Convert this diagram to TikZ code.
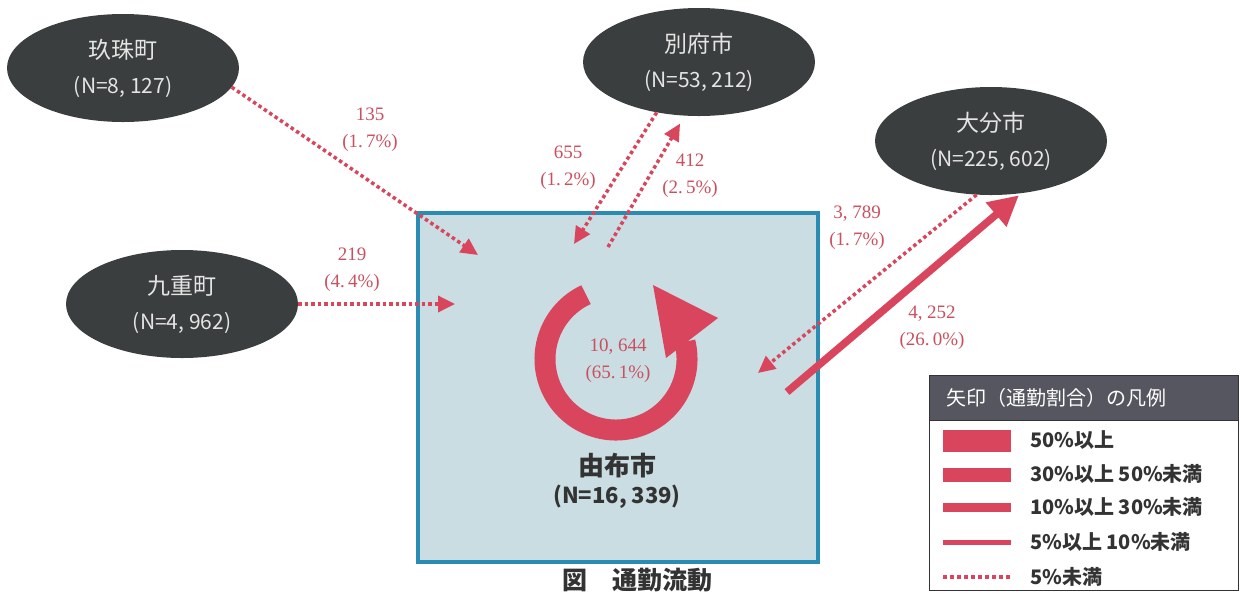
\documentclass[tikz,border=0pt]{standalone}
\usepackage{fontspec}
\newfontfamily\jp{Noto Sans CJK JP}
\newfontfamily\mincho{Liberation Serif}
\usetikzlibrary{shapes.geometric,arrows.meta}
\definecolor{ellfill}{HTML}{3B3E3E}
\definecolor{elltext}{HTML}{E4E4E4}
\definecolor{arr}{HTML}{D9455C}
\definecolor{lbl}{HTML}{C9505F}
\definecolor{boxline}{HTML}{2B8CB3}
\definecolor{boxfill}{HTML}{C9DDE2}
\definecolor{hdr}{HTML}{55565F}
\definecolor{txt}{HTML}{333333}
\newcommand{\nline}[1]{{\fontsize{21}{35}\selectfont #1}}
\tikzset{
  city/.style={ellipse, fill=ellfill, text=elltext, minimum width=232, minimum height=108, inner sep=0pt, align=center, font=\jp\fontsize{23}{35}\selectfont},
  lab/.style={text=lbl, align=center, font=\mincho\fontsize{19}{27}\selectfont},
  dotarrow/.style={draw=arr, line width=3.5pt, dash pattern=on 3.5pt off 3pt, -{Triangle[length=17pt,width=16pt]}},
  solidarrow/.style={draw=arr, line width=7.5pt, -{Triangle[length=30pt,width=30pt]}},
  legtext/.style={anchor=west, text=txt, inner sep=0pt, font=\jp\bfseries\fontsize{20}{22}\selectfont},
  swatch/.style={draw=arr},
}
\begin{document}
\begin{tikzpicture}[x=1pt,y=-1pt]
\useasboundingbox (0,0) rectangle (1241,595);
% main box
\node[draw=boxline, line width=4pt, fill=boxfill, minimum width=400, minimum height=349, inner sep=0pt] (yufu) at (618,387.5) {};
\node[text=txt, align=center, font=\jp\bfseries\fontsize{26}{28}\selectfont] (yufulbl) at (617,481) {由布市\\{\fontsize{22}{28}\selectfont(N=16, 339)}};
% cities
\node[city] (kusu) at (123,68) {玖珠町\\\nline{(N=8, 127)}};
\node[city] (beppu) at (699,62) {別府市\\\nline{(N=53, 212)}};
\node[city] (oita) at (991,141) {大分市\\\nline{(N=225, 602)}};
\node[city] (kokonoe) at (182,304) {九重町\\\nline{(N=4, 962)}};
% end coordinates inside the box
\coordinate (kusuEnd) at (478,255);
\coordinate (kokoEnd) at (455,304);
\coordinate (bepEnd) at (574,244);
\coordinate (bepStart) at (608,247);
\coordinate (oitaEnd) at (758,373);
\coordinate (oitaStart) at (787,392);
% connectors
\draw[dotarrow] (kusu.-10) -- (kusuEnd);
\draw[dotarrow] (kokonoe.east) -- (kokoEnd);
\draw[dotarrow] (beppu.-130) -- (bepEnd);
\draw[dotarrow, shorten >=9pt] (bepStart) -- (beppu.-105);
\draw[dotarrow] (oita.-105) -- (oitaEnd);
\draw[solidarrow, shorten >=3pt] (oitaStart) -- (oita.-60);
% circular arrow
\draw[arr, line width=21pt] (616,359) ++(245:71) arc[start angle=245, end angle=-14, radius=71];
\fill[arr] (653,285) -- (718,318) -- (666,358) -- cycle;
% labels
\node[lab] (l1) at (370,130) {135\\(1.\,7\%)};
\node[lab] (l2) at (352,270) {219\\(4.\,4\%)};
\node[lab] (l3) at (568,168) {655\\(1.\,2\%)};
\node[lab] (l4) at (690,176) {412\\(2.\,5\%)};
\node[lab] (l5) at (857,228) {3, 789\\(1.\,7\%)};
\node[lab] (l6) at (932,328) {4, 252\\(26.\,0\%)};
\node[lab] (l7) at (618,361) {10, 644\\(65.\,1\%)};
% legend
\node[draw=txt, line width=1.2pt, fill=white, minimum width=309, minimum height=215, inner sep=0pt, anchor=north west] (legend) at (929,375) {};
\node[fill=hdr, draw=txt, line width=1.2pt, minimum width=309, minimum height=45, inner sep=0pt, anchor=north west] (leghdr) at (929,375) {};
\node[anchor=west, text=white, inner sep=0pt, font=\jp\fontsize{20}{22}\selectfont] (hdrtext) at (946,398) {矢印（通勤割合）の凡例};
\draw[swatch, line width=22pt] (943,441) -- (1011,441);
\draw[swatch, line width=14pt] (943,475) -- (1011,475);
\draw[swatch, line width=9pt] (943,507) -- (1011,507);
\draw[swatch, line width=5pt] (943,542) -- (1011,542);
\draw[swatch, line width=4pt, dash pattern=on 4pt off 3pt] (943,577) -- (1011,577);
\node[legtext] (t1) at (1030,440) {50\%以上};
\node[legtext] (t2) at (1030,474) {30\%以上 50\%未満};
\node[legtext] (t3) at (1030,507) {10\%以上 30\%未満};
\node[legtext] (t4) at (1030,542) {5\%以上 10\%未満};
\node[legtext] (t5) at (1030,577) {5\%未満};
% caption
\node[text=txt, font=\jp\bfseries\fontsize{25}{28}\selectfont] (caption) at (637,580) {図　通勤流動};
\end{tikzpicture}
\end{document}
